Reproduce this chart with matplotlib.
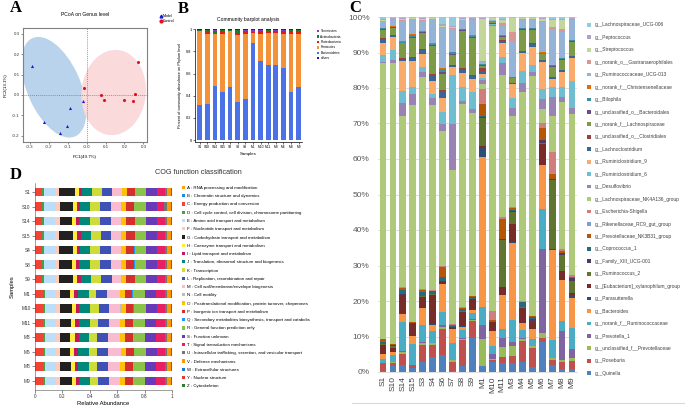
import numpy as np
import matplotlib
matplotlib.use('Agg')
import matplotlib.pyplot as plt
from matplotlib.patches import Ellipse, Patch, Rectangle
from matplotlib.lines import Line2D

plt.rcParams['font.family'] = ['Liberation Sans', 'DejaVu Sans']

W, H = 685, 407
fig = plt.figure(figsize=(6.85, 4.07), dpi=100)


def ax_px(left, top, right, bottom, **kw):
    return fig.add_axes([left / W, 1 - bottom / H, (right - left) / W, (bottom - top) / H], **kw)


def ftext(x, y, s, **kw):
    return fig.text(x / W, 1 - y / H, s, **kw)

# ---------------------------------------------------------------- data A
model_pc1 = [-0.288, -0.225, -0.140, -0.106, -0.087, -0.021]
model_pc2 = [0.143, -0.135, -0.186, -0.153, -0.063, -0.030]
control_pc1 = [-0.014, 0.074, 0.092, 0.195, 0.244, 0.257, 0.269]
control_pc2 = [0.036, 0.000, -0.025, -0.025, -0.030, 0.007, 0.161]
model_ellipse = dict(xy=(-0.173, 0.038), width=0.533, height=0.28, angle=-64)
control_ellipse = dict(xy=(0.143, 0.012), width=0.34, height=0.42, angle=-8)

# ---------------------------------------------------------------- data B
phylum_samples = ['S1', 'S10', 'S14', 'S15', 'S3', 'S8', 'S9', 'M1', 'M10', 'M11', 'M3', 'M6', 'M8', 'M9']
bacteroidetes = [0.313, 0.330, 0.490, 0.430, 0.476, 0.346, 0.370, 0.873, 0.717, 0.678, 0.678, 0.648, 0.430, 0.476]
firmicutes = [0.672, 0.625, 0.465, 0.530, 0.509, 0.599, 0.590, 0.092, 0.238, 0.292, 0.292, 0.312, 0.530, 0.484]
proteobacteria = [0.003, 0.018, 0.016, 0.018, 0.002, 0.012, 0.016, 0.012, 0.020, 0.016, 0.015, 0.016, 0.016, 0.016]
actinobacteria = [0.004, 0.018, 0.018, 0.012, 0.008, 0.035, 0.012, 0.003, 0.006, 0.004, 0.004, 0.012, 0.014, 0.014]
tenericutes = [0.002, 0.002, 0.003, 0.002, 0.002, 0.003, 0.004, 0.016, 0.012, 0.002, 0.003, 0.004, 0.003, 0.003]
others = [0.006, 0.007, 0.008, 0.008, 0.003, 0.005, 0.008, 0.004, 0.007, 0.008, 0.008, 0.008, 0.007, 0.007]

# ---------------------------------------------------------------- data C
genus_samples = ['S1', 'S10', 'S14', 'S15', 'S3', 'S4', 'S6', 'S7', 'S8', 'S9',
                 'M1', 'M10', 'M11', 'M3', 'M4', 'M5', 'M6', 'M7', 'M8', 'M9']
genus_labels = ['g__Quinella', 'g__Roseburia', 'g__unclassified_f__Prevotellaceae', 'g__Prevotella_1',
                'g__norank_f__Ruminococcaceae', 'g__Bacteroides', 'g__Parasutterella',
                'g__[Eubacterium]_xylanophilum_group', 'g__Ruminococcus_2', 'g__Family_XIII_UCG-001',
                'g__Coprococcus_1', 'g__Prevotellaceae_NK3B31_group', 'g__Rikenellaceae_RC9_gut_group',
                'g__Escherichia-Shigella', 'g__Lachnospiraceae_NK4A136_group', 'g__Desulfovibrio',
                'g__Ruminiclostridium_6', 'g__Ruminiclostridium_9', 'g__Lachnoclostridium',
                'g__unclassified_o__Clostridiales', 'g__norank_f__Lachnospiraceae',
                'g__unclassified_o__Bacteroidales', 'g__Bilophila', 'g__norank_f__Christensenellaceae',
                'g__Ruminococcaceae_UCG-013', 'g__norank_o__Gastranaerophilales', 'g__Streptococcus',
                'g__Peptococcus', 'g__Lachnospiraceae_UCG-006']
genus_colors = ['#4F81BD', '#C0504D', '#9BBB59', '#8064A2', '#4BACC6', '#F79646',
                '#2C4D75', '#772C2A', '#5F7530', '#4D3B62', '#276A7C', '#B65708',
                '#7BA0CD', '#D07E7C', '#AFC97A', '#9983B5', '#6FBDD1', '#F9AB6B',
                '#3A6595', '#9A403E', '#7D9B47', '#664F82', '#3A8FA5', '#E36C09',
                '#95B3D7', '#D99694', '#C3D69B', '#B3A2C7', '#93CDDD']

s1 = [0.3, 1.9, 0.2, 0.1, 1.2, 1.4, 0.1, 2.6, 0.2, 0.1, 0.4, 0.8, 0.1, 0.1, 78.5, 0.2, 2.1, 3.3, 1.2, 0.2, 2.3, 0.2, 0.3, 0.2, 1.8, 0.1, 0.3, 0.2, 0.6]
s10 = [1.6, 1.1, 0.1, 0.1, 2.1, 0.6, 0.1, 1.2, 0.6, 0.1, 0.2, 0.1, 0.1, 0.1, 80.3, 0.9, 2.8, 3.7, 0.5, 0.1, 2.1, 0.1, 0.2, 0.1, 1.9, 0.1, 0.2, 0.2, 0.3]
s14 = [2.1, 3.1, 0.4, 0.5, 8.1, 2.3, 0.2, 5.1, 0.2, 0.2, 1.2, 0.6, 0.1, 0.1, 48.8, 3.5, 3.5, 8.6, 0.3, 0.5, 4.2, 0.2, 0.3, 0.2, 5.8, 0.2, 0.3, 0.2, 0.3]
s15 = [1.1, 0.6, 0.1, 0.1, 6.2, 2.1, 0.1, 3.3, 0.1, 0.1, 0.2, 0.1, 0.1, 0.1, 61.6, 3.3, 1.9, 7.3, 0.9, 0.2, 5.6, 0.3, 0.5, 0.2, 4.2, 0.1, 0.2, 0.2, 0.2]
s3 = [2.8, 4.9, 0.7, 0.2, 4.7, 5.0, 0.1, 3.1, 0.2, 0.1, 0.9, 0.7, 0.1, 0.1, 60.7, 1.2, 1.4, 3.9, 1.2, 0.3, 4.4, 0.2, 0.2, 0.3, 2.8, 0.2, 0.2, 0.3, 0.4]
s4 = [4.4, 3.3, 0.5, 0.2, 3.3, 1.9, 0.1, 8.4, 0.2, 0.1, 0.7, 0.1, 0.1, 0.1, 53.1, 1.9, 1.3, 3.6, 1.9, 0.3, 7.9, 0.2, 0.5, 0.1, 6.8, 0.1, 0.2, 0.2, 0.2]
s6 = [4.9, 7.5, 0.7, 0.6, 3.7, 8.1, 0.1, 0.7, 0.1, 0.1, 1.2, 2.8, 0.1, 0.1, 39.1, 2.3, 3.3, 4.2, 1.9, 0.4, 4.7, 0.4, 0.9, 0.2, 11.7, 0.2, 0.5, 0.5, 2.0]
s7 = [0.2, 2.8, 0.3, 0.1, 4.9, 3.9, 0.1, 0.3, 0.1, 0.1, 0.5, 0.1, 0.1, 0.1, 44.2, 13.1, 14.0, 2.3, 0.4, 0.4, 2.8, 0.3, 0.5, 0.1, 6.5, 0.2, 0.3, 0.3, 2.6]
s8 = [1.6, 7.5, 0.5, 0.2, 2.3, 0.9, 0.1, 4.2, 0.1, 0.1, 0.7, 0.1, 0.1, 0.1, 58.3, 1.0, 4.0, 4.0, 1.2, 0.2, 10.5, 0.3, 0.3, 0.1, 2.5, 0.1, 0.3, 0.2, 0.3]
s9 = [9.8, 4.7, 0.4, 0.2, 1.9, 0.9, 0.1, 2.8, 0.1, 0.1, 0.6, 0.1, 0.1, 0.1, 52.4, 1.2, 4.9, 3.7, 0.9, 0.2, 10.7, 0.2, 0.3, 0.1, 4.5, 0.1, 0.2, 0.2, 0.3]
m1 = [1.6, 0.2, 7.7, 4.0, 5.1, 42.7, 2.8, 0.3, 7.9, 0.5, 0.2, 3.3, 0.3, 4.2, 1.4, 0.9, 0.7, 1.1, 0.9, 0.9, 0.5, 0.3, 0.2, 0.2, 0.6, 0.2, 12.0, 0.3, 0.2]
m10 = [3.0, 0.5, 0.3, 1.4, 2.3, 4.2, 0.1, 2.6, 0.1, 0.1, 0.1, 0.1, 0.1, 2.5, 81.7, 0.2, 0.2, 0.2, 0.1, 0.1, 0.2, 0.1, 0.1, 0.1, 0.3, 0.1, 0.4, 0.2, 0.2]
m11 = [2.5, 1.7, 3.0, 2.6, 2.5, 9.8, 0.2, 2.3, 13.6, 0.1, 0.2, 5.6, 0.1, 0.5, 41.0, 3.4, 1.8, 4.2, 0.6, 0.2, 0.8, 0.2, 0.2, 0.2, 2.5, 1.0, 0.8, 0.4, 0.5]
m3 = [2.5, 1.9, 2.8, 1.4, 6.1, 21.6, 0.3, 5.2, 3.5, 0.2, 0.2, 0.5, 0.1, 0.2, 25.8, 2.3, 2.8, 3.8, 0.2, 0.2, 1.4, 0.1, 0.2, 0.1, 9.9, 2.8, 3.7, 0.2, 0.2]
m4 = [2.8, 6.1, 0.5, 0.5, 2.3, 1.9, 0.1, 4.2, 0.2, 0.1, 1.4, 0.1, 0.1, 0.1, 60.1, 2.8, 3.3, 5.2, 0.5, 0.2, 6.1, 0.2, 0.2, 0.1, 2.3, 0.2, 0.2, 0.2, 0.2]
m5 = [1.4, 5.6, 0.4, 0.1, 1.9, 2.8, 0.1, 1.9, 0.2, 0.9, 0.5, 0.1, 0.1, 0.1, 68.5, 1.4, 1.9, 5.2, 0.9, 0.2, 3.8, 0.2, 0.2, 0.1, 2.3, 0.2, 0.2, 0.2, 0.2]
m6 = [8.5, 0.9, 1.4, 23.5, 11.3, 12.2, 0.1, 5.7, 0.2, 0.9, 0.1, 3.3, 0.1, 1.4, 3.8, 2.8, 2.8, 7.5, 0.5, 0.2, 1.5, 0.2, 0.2, 0.2, 8.5, 0.3, 0.5, 0.2, 0.3]
m7 = [2.0, 1.4, 0.5, 0.1, 5.1, 25.4, 0.3, 0.2, 19.6, 0.2, 0.1, 1.4, 0.1, 6.1, 10.3, 5.2, 2.8, 2.4, 0.5, 0.2, 2.8, 0.2, 0.2, 0.1, 10.3, 0.5, 2.0, 0.3, 0.5]
m8 = [0.9, 1.9, 0.5, 8.0, 2.8, 11.3, 0.2, 2.3, 4.7, 0.3, 0.1, 0.5, 0.1, 0.4, 40.8, 1.4, 2.8, 4.2, 0.5, 0.2, 2.8, 0.2, 0.2, 0.1, 7.0, 1.0, 2.5, 0.3, 0.5]
m9 = [0.9, 2.3, 0.9, 2.3, 6.1, 8.5, 0.9, 0.5, 3.3, 0.9, 0.1, 0.1, 0.1, 0.5, 45.5, 1.9, 7.5, 6.6, 0.5, 0.2, 3.8, 0.2, 0.3, 0.1, 5.6, 0.2, 0.2, 0.2, 0.3]
genus_table = [s1, s10, s14, s15, s3, s4, s6, s7, s8, s9, m1, m10, m11, m3, m4, m5, m6, m7, m8, m9]

# ---------------------------------------------------------------- data D
cog_samples = ['S1', 'S10', 'S14', 'S15', 'S4', 'S8', 'S9', 'M1', 'M10', 'M11', 'M3', 'M6', 'M8', 'M9']
cog_labels = ['A : RNA processing and modification', 'B : Chromatin structure and dynamics',
              'C : Energy production and conversion',
              'D : Cell cycle control, cell division, chromosome partitioning',
              'E : Amino acid transport and metabolism', 'F : Nucleotide transport and metabolism',
              'G : Carbohydrate transport and metabolism', 'H : Coenzyme transport and metabolism',
              'I : Lipid transport and metabolism', 'J : Translation, ribosomal structure and biogenesis',
              'K : Transcription', 'L : Replication, recombination and repair',
              'M : Cell wall/membrane/envelope biogenesis', 'N : Cell motility',
              'O : Posttranslational modification, protein turnover, chaperones',
              'P : Inorganic ion transport and metabolism',
              'Q : Secondary metabolites biosynthesis, transport and catabolism',
              'R : General function prediction only', 'S : Function unknown',
              'T : Signal transduction mechanisms',
              'U : Intracellular trafficking, secretion, and vesicular transport',
              'V : Defense mechanisms', 'W : Extracellular structures', 'Y : Nuclear structure',
              'Z : Cytoskeleton']
cog_colors = ['#FFA000', '#1E88E5', '#F44336', '#43A047', '#BBDEFB', '#FFCCBC', '#212121', '#FFEB3B',
              '#C2185B', '#00897B', '#CDDC39', '#3F51B5', '#F8BBD0', '#BDBDBD', '#FFC107', '#D32F2F',
              '#2196F3', '#8BC34A', '#673AB7', '#E91E63', '#757575', '#FF9800', '#1976D2', '#E53935',
              '#2E7D32']
cog_A = [0.003, 0.003, 0.003, 0.003, 0.003, 0.003, 0.003, 0.003, 0.003, 0.003, 0.003, 0.003, 0.003, 0.003]
cog_B = [0.001, 0.001, 0.001, 0.001, 0.001, 0.001, 0.001, 0.001, 0.001, 0.001, 0.001, 0.001, 0.001, 0.001]
cog_C = [0.049, 0.050, 0.049, 0.050, 0.049, 0.050, 0.049, 0.061, 0.055, 0.056, 0.055, 0.056, 0.055, 0.055]
cog_D = [0.012, 0.012, 0.012, 0.012, 0.012, 0.012, 0.012, 0.012, 0.012, 0.012, 0.012, 0.012, 0.012, 0.012]
cog_E = [0.088, 0.088, 0.085, 0.083, 0.085, 0.083, 0.080, 0.073, 0.080, 0.080, 0.080, 0.080, 0.080, 0.080]
cog_F = [0.026, 0.026, 0.031, 0.030, 0.030, 0.031, 0.030, 0.036, 0.030, 0.030, 0.035, 0.036, 0.035, 0.033]
cog_G = [0.120, 0.097, 0.090, 0.105, 0.097, 0.090, 0.110, 0.073, 0.090, 0.085, 0.073, 0.073, 0.075, 0.085]
cog_H = [0.028, 0.028, 0.031, 0.030, 0.030, 0.031, 0.030, 0.032, 0.030, 0.030, 0.035, 0.030, 0.030, 0.030]
cog_I = [0.022, 0.022, 0.024, 0.024, 0.024, 0.024, 0.024, 0.029, 0.026, 0.026, 0.028, 0.028, 0.028, 0.027]
cog_J = [0.075, 0.075, 0.078, 0.076, 0.076, 0.077, 0.076, 0.078, 0.078, 0.078, 0.080, 0.085, 0.078, 0.078]
cog_K = [0.070, 0.072, 0.073, 0.073, 0.073, 0.075, 0.075, 0.056, 0.065, 0.065, 0.058, 0.058, 0.060, 0.062]
cog_L = [0.075, 0.078, 0.080, 0.078, 0.078, 0.078, 0.078, 0.080, 0.078, 0.078, 0.082, 0.085, 0.080, 0.078]
cog_M = [0.075, 0.075, 0.078, 0.075, 0.075, 0.075, 0.072, 0.092, 0.080, 0.080, 0.085, 0.095, 0.085, 0.080]
cog_N = [0.003, 0.003, 0.003, 0.003, 0.003, 0.003, 0.003, 0.003, 0.003, 0.003, 0.003, 0.003, 0.003, 0.003]
cog_O = [0.034, 0.034, 0.036, 0.035, 0.035, 0.036, 0.036, 0.034, 0.035, 0.035, 0.036, 0.040, 0.036, 0.036]
cog_P = [0.058, 0.058, 0.060, 0.060, 0.060, 0.060, 0.060, 0.056, 0.058, 0.058, 0.058, 0.055, 0.058, 0.058]
cog_Q = [0.003, 0.003, 0.003, 0.003, 0.003, 0.003, 0.003, 0.003, 0.003, 0.003, 0.003, 0.003, 0.003, 0.003]
cog_R = [0.085, 0.085, 0.085, 0.085, 0.085, 0.085, 0.085, 0.092, 0.088, 0.088, 0.090, 0.090, 0.090, 0.088]
cog_S = [0.080, 0.080, 0.080, 0.080, 0.080, 0.080, 0.080, 0.081, 0.080, 0.080, 0.082, 0.080, 0.080, 0.080]
cog_T = [0.055, 0.055, 0.053, 0.055, 0.055, 0.055, 0.055, 0.069, 0.060, 0.062, 0.065, 0.065, 0.065, 0.062]
cog_U = [0.020, 0.020, 0.020, 0.020, 0.020, 0.020, 0.020, 0.015, 0.018, 0.018, 0.015, 0.015, 0.015, 0.018]
cog_V = [0.031, 0.031, 0.031, 0.031, 0.031, 0.031, 0.031, 0.031, 0.031, 0.031, 0.031, 0.031, 0.031, 0.031]
cog_W = [0.001, 0.001, 0.001, 0.001, 0.001, 0.001, 0.001, 0.001, 0.001, 0.001, 0.001, 0.001, 0.001, 0.001]
cog_Y = [0.001, 0.001, 0.001, 0.001, 0.001, 0.001, 0.001, 0.001, 0.001, 0.001, 0.001, 0.001, 0.001, 0.001]
cog_Z = [0.002, 0.002, 0.002, 0.002, 0.002, 0.002, 0.002, 0.002, 0.002, 0.002, 0.002, 0.002, 0.002, 0.002]
cog_table = [cog_A, cog_B, cog_C, cog_D, cog_E, cog_F, cog_G, cog_H, cog_I, cog_J, cog_K, cog_L, cog_M,
             cog_N, cog_O, cog_P, cog_Q, cog_R, cog_S, cog_T, cog_U, cog_V, cog_W, cog_Y, cog_Z]

# ================================================================ panel A
axA = ax_px(23, 28, 147, 142)
axA.add_patch(Ellipse(fc='#B9D3EC', ec='none', zorder=1, **model_ellipse))
axA.add_patch(Ellipse(fc='#FBDADC', ec='none', zorder=1, **control_ellipse))
axA.axvline(0, color='#777777', ls=(0, (1.5, 1.5)), lw=0.5, zorder=2)
axA.axhline(0, color='#777777', ls=(0, (1.5, 1.5)), lw=0.5, zorder=2)
axA.scatter(model_pc1, model_pc2, marker='^', s=5, c='#1A1AD0', lw=0, zorder=3)
axA.scatter(control_pc1, control_pc2, marker='o', s=5, c='#E3111B', lw=0, zorder=3)
axA.set_xlim(-0.336, 0.319)
axA.set_ylim(-0.231, 0.329)
axA.set_xticks([-0.3, -0.2, -0.1, 0.0, 0.1, 0.2, 0.3])
axA.set_xticklabels(['-0.3', '-0.2', '-0.1', '-0.0', '0.1', '0.2', '0.3'])
axA.set_yticks([-0.2, -0.1, 0.0, 0.1, 0.2, 0.3])
axA.set_yticklabels(['-0.2', '-0.1', '0.0', '0.1', '0.2', '0.3'])
axA.tick_params(labelsize=3.2, length=1.5, width=0.4, pad=1, colors='#333333')
for sp in axA.spines.values():
    sp.set_color('#808080')
    sp.set_linewidth(0.8)
axA.set_xlabel('PC1(49.7%)', fontsize=3.2, labelpad=4)
axA.set_ylabel('PC2(13.1%)', fontsize=3.2, labelpad=3)
ftext(85, 15, 'PCoA on Genus level', fontsize=3.6, ha='center', va='center')
axA.legend(handles=[Line2D([], [], marker='^', ls='none', color='#1A1AD0', markersize=2),
                    Line2D([], [], marker='o', ls='none', color='#E3111B', markersize=2)],
           labels=['Model', 'Control'], loc='upper left', bbox_to_anchor=(158 / W, 1 - 12 / H),
           bbox_transform=fig.transFigure, fontsize=2.6, frameon=False, handlelength=0.6,
           handletextpad=0.3, labelspacing=0.3, borderpad=0)

# ================================================================ panel B
axB = ax_px(195, 29.3, 302, 141.5)
axB.set_zorder(2)
xb = np.arange(len(phylum_samples))
phyla = [('Bacteroidetes', bacteroidetes, '#4A72E6'), ('Firmicutes', firmicutes, '#F4923A'),
         ('Proteobacteria', proteobacteria, '#E3191C'), ('Actinobacteria', actinobacteria, '#1E7B2E'),
         ('Tenericutes', tenericutes, '#7E3FC4'), ('others', others, '#1B1BA8')]
bottom = np.zeros(len(phylum_samples))
handles_b = {}
for name, vals, col in phyla:
    b = axB.bar(xb, vals, bottom=bottom, width=0.62, color=col, lw=0)
    handles_b[name] = b
    bottom = bottom + np.array(vals)
axB.set_xlim(-0.62, 13.45)
axB.set_ylim(-0.012, 1.0)
axB.set_yticks([0, 0.2, 0.4, 0.6, 0.8, 1.0])
axB.set_yticklabels(['0', '0.2', '0.4', '0.6', '0.8', '1'])
axB.set_xticks(xb)
axB.set_xticklabels(phylum_samples)
axB.tick_params(axis='y', labelsize=2.8, length=1.5, width=0.4, pad=1)
axB.tick_params(axis='x', labelsize=2.4, length=1.5, width=0.4, pad=1)
for s in ['top', 'right']:
    axB.spines[s].set_visible(False)
for s in ['left', 'bottom']:
    axB.spines[s].set_linewidth(0.5)
axB.set_xlabel('Samples', fontsize=3.2, labelpad=2)
axB.set_ylabel('Percent of community abundance on Phylum level', fontsize=2.8, labelpad=3)
ftext(248, 20, 'Community barplot analysis', fontsize=3.6, ha='center', va='center')
leg_order = ['Tenericutes', 'Actinobacteria', 'Proteobacteria', 'Firmicutes', 'Bacteroidetes', 'others']
axB.legend([handles_b[n] for n in leg_order], leg_order, loc='upper left',
           bbox_to_anchor=(315 / W, 1 - 27.5 / H), bbox_transform=fig.transFigure, fontsize=2.3,
           frameon=False, handlelength=0.8, handleheight=0.8, handletextpad=0.4,
           labelspacing=0.45, borderpad=0)

# ================================================================ panel D
axD = ax_px(35, 183.3, 172, 389.7)
yd = np.arange(len(cog_samples))
row_tot = np.sum(np.array(cog_table), axis=0)
left = np.zeros(len(cog_samples))
handles_d = []
for lab, vals, col in zip(cog_labels, cog_table, cog_colors):
    v = np.array(vals) / row_tot
    b = axD.barh(yd, v, left=left, height=0.58, color=col, lw=0)
    handles_d.append(b)
    left = left + v
axD.set_ylim(len(cog_samples) - 0.4, -0.6)
axD.set_xlim(0, 1.0)
axD.set_yticks(yd)
axD.set_yticklabels(cog_samples)
axD.set_xticks([0, 0.2, 0.4, 0.6, 0.8, 1.0])
axD.set_xticklabels(['0', '0.2', '0.4', '0.6', '0.8', '1'])
axD.tick_params(labelsize=3.4, length=2, width=0.4, pad=1.2, colors='#333333')
for s in ['top', 'right']:
    axD.spines[s].set_visible(False)
for s in ['left', 'bottom']:
    axD.spines[s].set_linewidth(0.4)
    axD.spines[s].set_color('#555555')
axD.set_ylabel('Samples', fontsize=4.2, labelpad=5)
axD.set_xlabel('Relative Abundance', fontsize=4.2, labelpad=1.5)
ftext(155, 173, 'COG function classification', fontsize=5.2, ha='left', va='center', color='#333333')
axD.legend(handles_d, cog_labels, loc='upper left', bbox_to_anchor=(179.5 / W, 1 - 183.5 / H),
           bbox_transform=fig.transFigure, fontsize=3.2, frameon=False, handlelength=0.75,
           handleheight=0.75, handletextpad=0.5, labelspacing=0.92, borderpad=0)

# white panel background for C (clips legend D like the reference)
fig.add_artist(Rectangle((310 / W, 0), 1 - 310 / W, 1, transform=fig.transFigure,
                         fc='white', ec='none', zorder=0.5))
fig.add_artist(Line2D([352 / W, 1], [1 - 403 / H, 1 - 403 / H], transform=fig.transFigure,
                      color='#D9D9D9', lw=0.8, zorder=0.6))

# ================================================================ panel C
axC = ax_px(378, 17, 577, 372)
axC.set_zorder(1)
xc = np.arange(len(genus_samples))
gt = np.array(genus_table)
gt = gt / gt.sum(axis=1, keepdims=True) * 100
bottom = np.zeros(len(genus_samples))
handles_c = []
for j, (lab, col) in enumerate(zip(genus_labels, genus_colors)):
    b = axC.bar(xc, gt[:, j], bottom=bottom, width=0.68, color=col, lw=0, zorder=2)
    handles_c.append(b)
    bottom = bottom + gt[:, j]
axC.set_xlim(-0.5, len(genus_samples) - 0.5)
axC.set_ylim(0, 100)
axC.set_yticks(np.arange(0, 101, 10))
axC.set_yticklabels([f'{v}%' for v in range(0, 101, 10)])
axC.yaxis.grid(True, color='#D9D9D9', lw=0.6, zorder=0)
axC.set_axisbelow(True)
axC.set_xticks(xc)
axC.set_xticklabels(genus_samples, rotation=90)
axC.tick_params(axis='y', labelsize=6, length=0, pad=6, colors='#595959')
axC.tick_params(axis='x', labelsize=6, length=0, pad=3, colors='#404040')
for s in ['top', 'right', 'left']:
    axC.spines[s].set_visible(False)
axC.spines['bottom'].set_color('#D9D9D9')
axC.spines['bottom'].set_linewidth(0.6)
legC = axC.legend(handles_c[::-1], genus_labels[::-1], loc='upper left',
                  bbox_to_anchor=(585 / W, 1 - 20 / H), bbox_transform=fig.transFigure,
                  fontsize=3.55, frameon=False, handlelength=0.8,
                  handleheight=0.8, handletextpad=0.6, labelspacing=1.51, borderpad=0)
for t in legC.get_texts():
    t.set_color('#404040')

# panel letters
letter = dict(family=['Liberation Serif', 'DejaVu Serif'], weight='bold', fontsize=12,
              ha='center', va='center')
ftext(16, 8, 'A', **letter)
ftext(183, 9, 'B', **letter)
ftext(355, 8, 'C', **letter)
ftext(16, 175, 'D', **letter)

fig.savefig('out.png', dpi=100)
